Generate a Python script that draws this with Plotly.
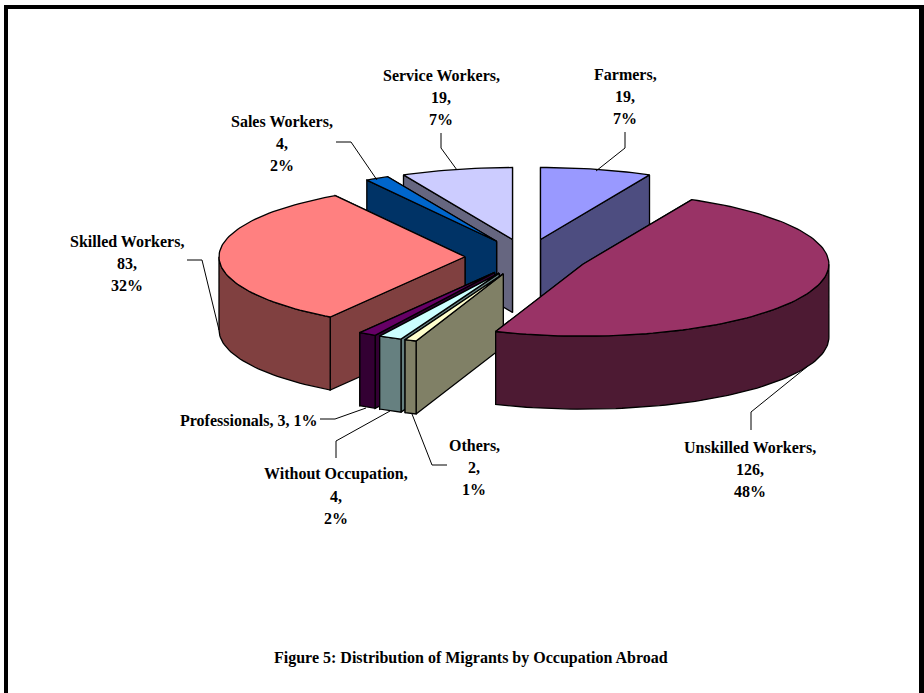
import math
import plotly.graph_objects as go

# Data, clockwise from 12 o'clock
categories = ["Farmers", "Unskilled Workers", "Others", "Without Occupation",
              "Professionals", "Skilled Workers", "Sales Workers", "Service Workers"]
values = [19, 126, 2, 4, 3, 83, 4, 19]
percents = ["7%", "48%", "1%", "2%", "1%", "32%", "2%", "7%"]
top_colors = ["#9999FF", "#993366", "#FFFFCC", "#CCFFFF", "#660066", "#FF8080", "#0066CC", "#CCCCFF"]
side_colors = ["#4D4D80", "#4D1A33", "#808066", "#668080", "#330033", "#804040", "#003366", "#666680"]
draw_order = ["Farmers", "Service Workers", "Sales Workers", "Skilled Workers",
              "Professionals", "Without Occupation", "Others", "Unskilled Workers"]

# Label placement: centre x, first-line y, lines joined or stacked
label_pos = {
    "Farmers": (625, 74, True), "Service Workers": (441, 75, True),
    "Sales Workers": (282, 121, True), "Skilled Workers": (127, 241, True),
    "Professionals": (248, 420, False), "Without Occupation": (336, 474, True),
    "Others": (474, 445, True), "Unskilled Workers": (750, 447, True),
}
leaders = {
    "Farmers": [(625, 132), (625, 148), (596, 171)],
    "Service Workers": [(441, 133), (441, 148), (457, 170)],
    "Sales Workers": [(336, 142), (351, 142), (377, 180)],
    "Skilled Workers": [(187, 260), (202, 260), (219, 330)],
    "Professionals": [(320, 419), (335, 419), (366, 408)],
    "Without Occupation": [(336, 458), (336, 441), (390, 411)],
    "Others": [(447, 465), (432, 465), (412, 414)],
    "Unskilled Workers": [(751, 430), (751, 412), (808, 366)],
}
title = "Figure 5: Distribution of Migrants by Occupation Abroad"

# Pie geometry
CX, CY, RX, RY, DEPTH, EXPLODE = 526.5, 257, 246, 72, 73, 0.25
LINE_H = 22
FONT = dict(family="Liberation Serif", size=16, color="black")

total = sum(values)


def arc(ax, ay, a0, a1, dy=0):
    n = max(2, int(abs(a1 - a0) / 1.5) + 2)
    pts = []
    for i in range(n):
        a = math.radians(a0 + (a1 - a0) * i / (n - 1))
        pts.append((ax + RX * math.sin(a), ay - RY * math.cos(a) + dy))
    return pts


fig = go.Figure()


def poly(pts, color):
    fig.add_trace(go.Scatter(
        x=[p[0] for p in pts] + [pts[0][0]], y=[p[1] for p in pts] + [pts[0][1]],
        mode="lines", fill="toself", fillcolor=color,
        line=dict(color="black", width=1.3), hoverinfo="skip", showlegend=False))


angles = {}
cum = 0
for c, v in zip(categories, values):
    angles[c] = (cum / total * 360, (cum + v) / total * 360)
    cum += v

for name in draw_order:
    i = categories.index(name)
    a0, a1 = angles[name]
    mid = math.radians((a0 + a1) / 2)
    ax = CX + EXPLODE * RX * math.sin(mid)
    ay = CY - EXPLODE * RY * math.cos(mid)
    rim0 = arc(ax, ay, a0, a0)[0]
    rim1 = arc(ax, ay, a1, a1)[0]
    side = side_colors[i]
    # radial faces
    for r in (rim1, rim0):
        poly([(ax, ay), r, (r[0], r[1] + DEPTH), (ax, ay + DEPTH)], side)
    # outer wall: only the part facing the viewer
    s0, s1 = max(a0, 90), min(a1, 270)
    if s1 > s0:
        poly(arc(ax, ay, s0, s1) + arc(ax, ay, s1, s0, DEPTH), side)
    # top
    poly([(ax, ay)] + arc(ax, ay, a0, a1), top_colors[i])

# leader lines
for name, pts in leaders.items():
    fig.add_trace(go.Scatter(x=[p[0] for p in pts], y=[p[1] for p in pts], mode="lines",
                             line=dict(color="black", width=1), hoverinfo="skip", showlegend=False))

# labels
annotations = []
for c, v, p in zip(categories, values, percents):
    x, y, stacked = label_pos[c]
    lines = [f"{c},", f"{v},", p] if stacked else [f"{c}, {v}, {p}"]
    for k, t in enumerate(lines):
        annotations.append(dict(x=x, y=y + k * LINE_H, text=f"<b>{t}</b>", showarrow=False,
                                xanchor="center", yanchor="middle", font=FONT))
annotations.append(dict(x=471, y=658, text=f"<b>{title}</b>", showarrow=False,
                        xanchor="center", yanchor="middle", font=FONT))

# page frame
frame = [
    dict(type="rect", x0=4, x1=8, y0=5, y1=693),
    dict(type="rect", x0=4, x1=924, y0=5, y1=9),
    dict(type="rect", x0=919, x1=924, y0=5, y1=693),
]
for s in frame:
    s.update(xref="x", yref="y", fillcolor="black", line=dict(width=0), layer="above")

fig.update_layout(
    width=924, height=693, autosize=False,
    margin=dict(l=0, r=0, t=0, b=0),
    paper_bgcolor="white", plot_bgcolor="white",
    xaxis=dict(range=[0, 924], visible=False, fixedrange=True),
    yaxis=dict(range=[693, 0], visible=False, fixedrange=True),
    annotations=annotations, shapes=frame,
)
fig.write_html("out.html", post_script="document.body.style.margin='0';document.body.style.overflow='hidden';",
               config=dict(displayModeBar=False))
